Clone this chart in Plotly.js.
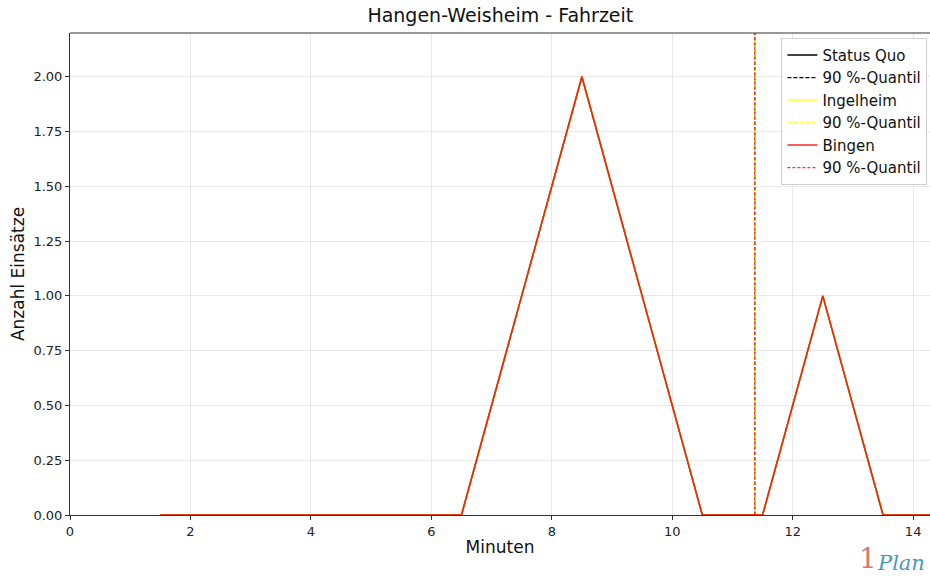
<!DOCTYPE html>
<html>
<head>
<meta charset="utf-8">
<script src="https://cdn.plot.ly/plotly-3.0.1.min.js"></script>
<style>html,body{margin:0;padding:0;background:#fff;}#chart{width:930px;height:583px;}</style>
</head>
<body>
<div id="chart"></div>
<script>
const minutes = [1.5, 2.5, 3.5, 4.5, 5.5, 6.5, 7.5, 8.5, 9.5, 10.5, 11.5, 12.5, 13.5, 14.5];
const statusQuo = [0, 0, 0, 0, 0, 0, 1, 2, 1, 0, 0, 1, 0, 0];
const ingelheim = [0, 0, 0, 0, 0, 0, 1, 2, 1, 0, 0, 1, 0, 0];
const bingen = [0, 0, 0, 0, 0, 0, 1, 2, 1, 0, 0, 1, 0, 0];
const quantiles = {statusQuo: 11.37, ingelheim: 11.37, bingen: 11.37};
const yTop = 2.2;

const font = "DejaVu Sans, sans-serif";
const traces = [
  {x: minutes, y: statusQuo, mode: 'lines', name: 'Status Quo', line: {color: 'black', width: 1.5}},
  {x: [quantiles.statusQuo, quantiles.statusQuo], y: [0, yTop], mode: 'lines', name: '90 %-Quantil', line: {color: 'black', width: 1.2, dash: '4px,2px'}},
  {x: minutes, y: ingelheim, mode: 'lines', name: 'Ingelheim', line: {color: 'rgb(255,255,0)', width: 1.5}, opacity: 0.85},
  {x: [quantiles.ingelheim, quantiles.ingelheim], y: [0, yTop], mode: 'lines', name: '90 %-Quantil', line: {color: 'rgb(255,255,0)', width: 1.2, dash: '4px,2px'}, opacity: 0.85},
  {x: minutes, y: bingen, mode: 'lines', name: 'Bingen', line: {color: 'rgb(255,0,0)', width: 1.5}, opacity: 0.85},
  {x: [quantiles.bingen, quantiles.bingen], y: [0, yTop], mode: 'lines', name: '90 %-Quantil', line: {color: 'rgb(255,0,0)', width: 1.2, dash: '3px,2px'}, opacity: 0.8}
];

const layout = {
  width: 930, height: 583,
  margin: {l: 70, r: 0, t: 33, b: 68},
  paper_bgcolor: 'white', plot_bgcolor: 'white',
  font: {family: font, size: 13, color: '#222'},
  title: {text: 'Hangen-Weisheim - Fahrzeit', font: {family: font, size: 19, color: '#111'}, x: 0.538, xanchor: 'center', y: 0.985, yanchor: 'top'},
  xaxis: {
    range: [0, 14.28], tickvals: [0, 2, 4, 6, 8, 10, 12, 14],
    showgrid: true, gridcolor: '#e3e3e3', gridwidth: 0.8,
    showline: true, linecolor: '#333', linewidth: 1, mirror: false,
    ticks: 'outside', ticklen: 4, tickcolor: '#333', zeroline: false,
    title: {text: 'Minuten', font: {family: font, size: 17, color: '#111'}, standoff: 3},
    tickfont: {size: 13, color: '#222'}
  },
  yaxis: {
    range: [0, yTop], tickvals: [0, 0.25, 0.5, 0.75, 1, 1.25, 1.5, 1.75, 2],
    ticktext: ['0.00','0.25','0.50','0.75','1.00','1.25','1.50','1.75','2.00'],
    showgrid: true, gridcolor: '#e3e3e3', gridwidth: 0.8,
    showline: true, linecolor: '#333', linewidth: 1,
    ticks: 'outside', ticklen: 4, tickcolor: '#333', zeroline: false,
    title: {text: 'Anzahl Einsätze', font: {family: font, size: 17, color: '#111'}, standoff: 4},
    tickfont: {size: 13, color: '#222'}
  },
  legend: {
    x: 0.997, xanchor: 'right', y: 0.99, yanchor: 'top',
    bgcolor: 'rgba(255,255,255,0.85)', bordercolor: '#d0d0d0', borderwidth: 1,
    font: {family: font, size: 15, color: '#111'}, tracegroupgap: 0, itemwidth: 30
  },
  shapes: [
    {type: 'line', xref: 'paper', yref: 'paper', x0: 0, x1: 1, y0: 1, y1: 1, line: {color: '#333', width: 1}}
  ],
  annotations: [
    {text: '1', xref: 'paper', yref: 'paper', x: 0.928, y: -0.09, xanchor: 'center', yanchor: 'middle', showarrow: false,
     font: {family: 'DejaVu Serif, serif', size: 28, color: '#d9776f'}},
    {text: '<i>Plan</i>', xref: 'paper', yref: 'paper', x: 0.966, y: -0.1, xanchor: 'center', yanchor: 'middle', showarrow: false,
     font: {family: 'DejaVu Serif, serif', size: 21, color: '#4a97bb'}}
  ],
  showlegend: true
};

Plotly.newPlot('chart', traces, layout, {staticPlot: true, displayModeBar: false});
</script>
</body>
</html>
